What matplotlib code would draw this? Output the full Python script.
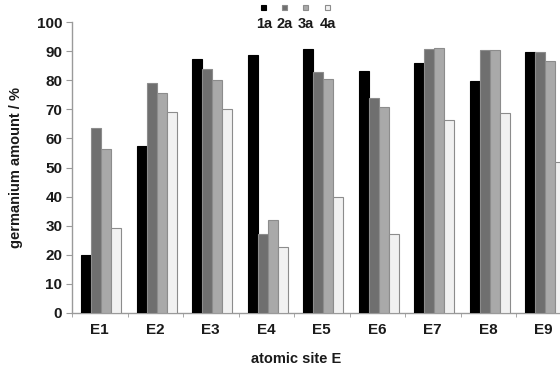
import matplotlib
matplotlib.use("Agg")
import matplotlib.pyplot as plt
import numpy as np

# ── Data ─────────────────────────────────────────────────────────────────────
SITES = ["E1", "E2", "E3", "E4", "E5", "E6", "E7", "E8", "E9"]
SERIES = ["1a", "2a", "3a", "4a"]

VAL_1A = [20.0, 57.5, 87.2, 88.7, 90.6, 83.0, 86.0, 79.7, 89.8]
VAL_2A = [63.7, 79.0, 84.0, 27.0, 82.7, 74.0, 90.6, 90.4, 89.8]
VAL_3A = [56.5, 75.5, 80.2, 32.0, 80.3, 70.9, 91.0, 90.3, 86.7]
VAL_4A = [29.2, 69.0, 70.0, 22.8, 39.8, 27.1, 66.2, 68.6, 51.8]

COLORS = ["#000000", "#6f6f6f", "#a9a9a9", "#f1f1f1"]
EDGE = "#8c8c8c"
AXIS = "#9a9a9a"
TEXT = "#1a1a1a"

plt.rcParams.update({
    "font.family": ["Liberation Sans", "DejaVu Sans"],
    "font.weight": "bold",
})

fig = plt.figure(figsize=(5.6, 3.65), dpi=100)
# axes runs a bit past the right edge, as in the reference (E9 is clipped)
ax = fig.add_axes([72 / 560, 52 / 365, 499.5 / 560, 291 / 365])

x = np.arange(len(SITES))
bar_w = 0.18
offsets = (np.arange(4) - 1.5) * bar_w
for vals, off, col in zip([VAL_1A, VAL_2A, VAL_3A, VAL_4A], offsets, COLORS):
    ax.bar(x + off + 0.03, vals, width=bar_w, color=col,
           edgecolor=EDGE if col != "#000000" else "#000000",
           linewidth=0.8, zorder=3)

ax.set_xlim(-0.5, len(SITES) - 0.5)
ax.set_ylim(0, 100)
ax.set_yticks(np.arange(0, 101, 10))
ax.set_xticks(x)
ax.set_xticklabels(SITES)
ax.set_xticks(np.arange(len(SITES) + 1) - 0.5, minor=True)

for s in ["top", "right"]:
    ax.spines[s].set_visible(False)
for s in ["left", "bottom"]:
    ax.spines[s].set_color(AXIS)
    ax.spines[s].set_linewidth(1.0)

ax.tick_params(axis="y", length=4, color=AXIS, labelsize=11, pad=3,
               labelcolor=TEXT)
ax.tick_params(axis="x", which="major", length=0, labelsize=11, pad=7,
               labelcolor=TEXT)
ax.tick_params(axis="x", which="minor", length=3, color=AXIS)

ax.set_ylabel("germanium amount / %", fontsize=10.5, color=TEXT,
              fontweight="bold", labelpad=10)
fig.text(296 / 560, 1 - 359 / 365, "atomic site E", ha="center",
         va="center", fontsize=10.5, fontweight="bold", color=TEXT)

# ── Legend: markers above labels ─────────────────────────────────────────────
leg_x = [264, 285, 306, 328]
for name, col, lx in zip(SERIES, COLORS, leg_x):
    fig.patches.append(plt.Rectangle(
        ((lx - 3) / 560, 1 - 10 / 365), 5 / 560, 5 / 365,
        transform=fig.transFigure, facecolor=col,
        edgecolor=EDGE if col != "#000000" else "#000000", linewidth=0.8))
    fig.text(lx / 560, 1 - 24 / 365, name, ha="center", va="center",
             fontsize=10.5, fontweight="bold", color=TEXT)

fig.savefig("out.png", dpi=100, facecolor="white")
